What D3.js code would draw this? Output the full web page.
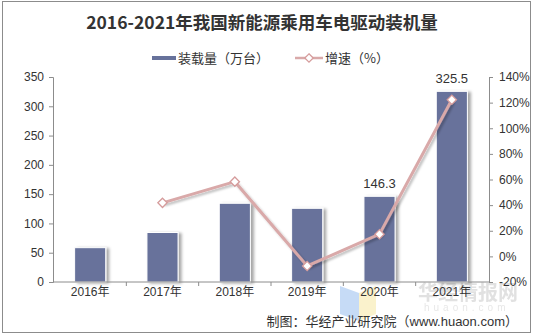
<!DOCTYPE html>
<html><head><meta charset="utf-8">
<script src="https://cdn.jsdelivr.net/npm/d3@7"></script>
<style>body{margin:0;background:#fff}svg{display:block}</style>
</head><body>
<svg id="c" width="534" height="336"></svg>
<script>
const categories = ["2016年","2017年","2018年","2019年","2020年","2021年"];
const volume = [58.6, 84.5, 134.4, 125.8, 146.3, 325.5];
const growth = [null, 41.8, 58.3, -7.5, 17.3, 122.2];
const leftTicks = [0,50,100,150,200,250,300,350];
const rightTicks = [-20,0,20,40,60,80,100,120,140];
const labelled = {"2020年":"146.3","2021年":"325.5"};

const svg = d3.select("#c");
const font = "'Liberation Sans', Arial, 'Noto Sans CJK SC', sans-serif";
const cjk = "'Noto Sans CJK SC', sans-serif";

const defs = svg.append("defs");
const f = defs.append("filter").attr("id","sh").attr("x","-20%").attr("y","-20%").attr("width","160%").attr("height","140%");
f.append("feDropShadow").attr("dx",3).attr("dy",1).attr("stdDeviation",1.8).attr("flood-color","#000").attr("flood-opacity",0.35);
const f2 = defs.append("filter").attr("id","sh2").attr("x","-20%").attr("y","-20%").attr("width","140%").attr("height","140%");
f2.append("feDropShadow").attr("dx",2).attr("dy",2).attr("stdDeviation",1.2).attr("flood-color","#000").attr("flood-opacity",0.25);

// border
svg.append("rect").attr("x",2.5).attr("y",1.5).attr("width",528).attr("height",331)
  .attr("fill","none").attr("stroke","#8c8c8c").attr("stroke-width",1);

const L = 54, R = 488, T = 77, B = 282;
const x = d3.scaleBand().domain(categories).range([L,R]).paddingInner(0.57).paddingOuter(0.285);
const xc = d3.scaleBand().domain(categories).range([L,R]);
const yL = d3.scaleLinear().domain([0,350]).range([B,T]);
const yR = d3.scaleLinear().domain([-20,140]).range([B,T]);

// watermark (drawn under everything)
const wm = svg.append("g").attr("opacity",0.5);
wm.append("path").attr("d","M340,286 L359,293 L359,321 L340,314 Z").attr("fill","#8fb8ef");
wm.append("path").attr("d","M359,293 L376,286 L376,314 L359,321 Z").attr("fill","#f7e79a");
wm.append("text").attr("x",418).attr("y",300).attr("font-family",cjk).attr("font-weight","bold").attr("font-size",20).attr("fill","#c4c4c4").text("华经情报网");
wm.append("text").attr("x",424).attr("y",311).attr("font-family",font).attr("font-size",10).attr("letter-spacing",4).attr("fill","#d0d0d0").text("huaon.com");

// title
svg.append("text").attr("x",262).attr("y",29).attr("text-anchor","middle")
  .attr("font-family",cjk).attr("font-weight","bold").attr("font-size",17.5).attr("fill","#333")
  .text("2016-2021年我国新能源乘用车电驱动装机量");

// legend
const lg = svg.append("g").attr("font-family",cjk).attr("font-size",13).attr("fill","#333");
lg.append("line").attr("x1",152).attr("x2",176).attr("y1",58).attr("y2",58).attr("stroke","#67729b").attr("stroke-width",4);
lg.append("text").attr("x",178).attr("y",62.5).text("装载量（万台）");
lg.append("line").attr("x1",295).attr("x2",323).attr("y1",58).attr("y2",58).attr("stroke","#d9a9a9").attr("stroke-width",2.5);
lg.append("path").attr("d",d3.symbol(d3.symbolDiamond2? d3.symbolDiamond2 : d3.symbolDiamond,45)()).attr("transform","translate(309,58)")
  .attr("fill","#fff").attr("stroke","#d59b9b").attr("stroke-width",1.2);
lg.append("text").attr("x",325).attr("y",62.5).text("增速（%）");

// bars
svg.append("g").selectAll("rect").data(categories).join("rect")
  .attr("x",d=>x(d)).attr("width",x.bandwidth())
  .attr("y",(d,i)=>yL(volume[i])).attr("height",(d,i)=>B-yL(volume[i]))
  .attr("fill","#67729b").attr("stroke","#fff").attr("stroke-width",1).attr("filter","url(#sh)");

// axes
const axL = svg.append("g").attr("transform",`translate(${L-1},0)`)
  .call(d3.axisLeft(yL).tickValues(leftTicks).tickSize(4).tickPadding(5));
const axR = svg.append("g").attr("transform",`translate(${R+1},0)`)
  .call(d3.axisRight(yR).tickValues(rightTicks).tickSize(4).tickPadding(6).tickFormat(d=>d+"%"));
const axB = svg.append("g").attr("transform",`translate(0,${B})`)
  .call(d3.axisBottom(xc).tickSize(0).tickPadding(10));
[axL,axR,axB].forEach(a=>{
  a.select(".domain").attr("stroke","#8c8c8c");
  a.selectAll(".tick line").attr("stroke","#8c8c8c");
  a.selectAll("text").attr("font-family",font).attr("font-size",12).attr("fill","#333");
});
axB.selectAll("text").attr("dy","0.35em");
axB.select(".domain").attr("d",`M${L-1},0H${R+1}`);
// category boundary ticks
axB.append("g").selectAll("line").data(categories.slice(1)).join("line")
  .attr("x1",d=>xc(d)).attr("x2",d=>xc(d)).attr("y1",0).attr("y2",4).attr("stroke","#8c8c8c");

// bar value labels
svg.append("g").selectAll("text").data(categories.filter(c=>labelled[c])).join("text")
  .attr("x",d=>x(d)+x.bandwidth()/2).attr("y",d=>yL(volume[categories.indexOf(d)])-8)
  .attr("text-anchor","middle").attr("font-family",font).attr("font-size",13).attr("fill","#333")
  .text(d=>labelled[d]);

// line
const pts = categories.map((c,i)=>({c, v:growth[i]})).filter(d=>d.v!==null);
const line = d3.line().x(d=>x(d.c)+x.bandwidth()/2).y(d=>yR(d.v));
svg.append("path").datum(pts).attr("d",line).attr("fill","none")
  .attr("stroke","#d9a9a9").attr("stroke-width",3).attr("filter","url(#sh2)");
svg.append("g").selectAll("path").data(pts).join("path")
  .attr("d",d3.symbol(d3.symbolDiamond2? d3.symbolDiamond2 : d3.symbolDiamond,55)())
  .attr("transform",d=>`translate(${x(d.c)+x.bandwidth()/2},${yR(d.v)})`)
  .attr("fill","#fff").attr("stroke","#d59b9b").attr("stroke-width",1.3);

// footer
svg.append("text").attr("x",518).attr("y",326).attr("text-anchor","end")
  .attr("font-family",font).attr("font-size",13).attr("fill","#333")
  .text("制图：华经产业研究院（www.huaon.com）");
</script>
</body></html>
